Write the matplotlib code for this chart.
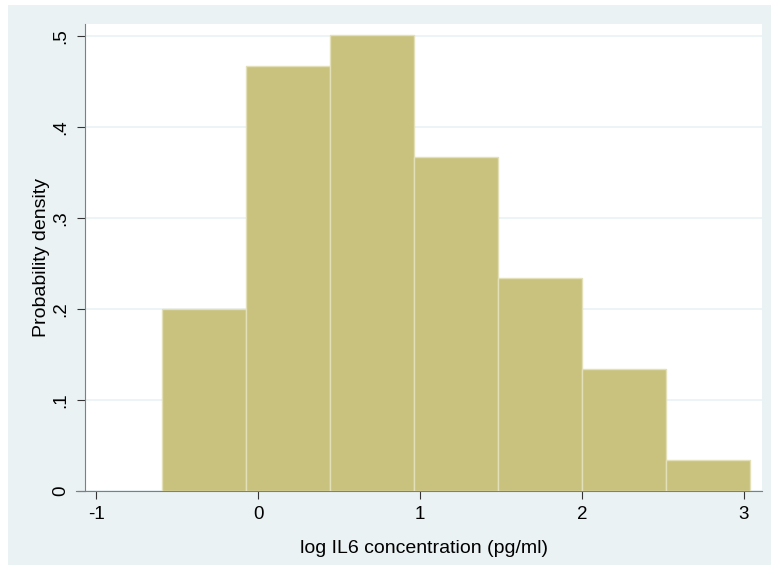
import numpy as np
import matplotlib.pyplot as plt
from matplotlib.patches import Rectangle

# histogram bins (log IL6) and density heights
bin_left = [-0.593, -0.074, 0.444, 0.963, 1.481, 2.0, 2.519]
bin_width = 0.5185
density = [0.200, 0.467, 0.501, 0.367, 0.234, 0.134, 0.034]

xticks = [-1, 0, 1, 2, 3]
yticks = [0, 0.1, 0.2, 0.3, 0.4, 0.5]
ytick_labels = ["0", ".1", ".2", ".3", ".4", ".5"]

bg = "#EAF2F3"
bar_color = "#C9C27F"

plt.rcParams['font.family'] = ['Liberation Sans', 'DejaVu Sans']
plt.rcParams['axes.unicode_minus'] = False

fig = plt.figure(figsize=(7.71, 5.65), dpi=100)
fig.patch.set_facecolor("white")
fig.patches.append(Rectangle((8 / 771, 0), 1, 1 - 5 / 565, transform=fig.transFigure,
                             facecolor=bg, edgecolor="none", zorder=-10))

ax = fig.add_axes([85 / 771, 74 / 565, (762 - 85) / 771, (491 - 24) / 565])
ax.set_facecolor("white")

ax.bar(bin_left, density, width=bin_width, align="edge", color=bar_color,
       edgecolor="#E3DFB8", linewidth=1.0, zorder=3)

ax.set_xlim(-1.068, 3.111)
ax.set_ylim(0, 0.513)
ax.set_xticks(xticks)
ax.set_yticks(yticks)
ax.set_yticklabels(ytick_labels, rotation=90, va="center")
ax.grid(axis="y", color=bg, linewidth=1.2, zorder=0)

for s in ["top", "right"]:
    ax.spines[s].set_visible(False)
ax.spines["left"].set_color("#7F7F7F")
ax.spines["bottom"].set_color("#7F7F7F")
ax.spines["bottom"].set_bounds(-1.123, 3.111)
ax.tick_params(axis="both", direction="out", length=6, color="#333333",
               labelsize=13.5, pad=5)

ax.set_xlabel("log IL6 concentration (pg/ml)", fontsize=14, labelpad=12)
ax.set_ylabel("Probability density", fontsize=14, labelpad=2)

fig.savefig("out.png", dpi=100)
